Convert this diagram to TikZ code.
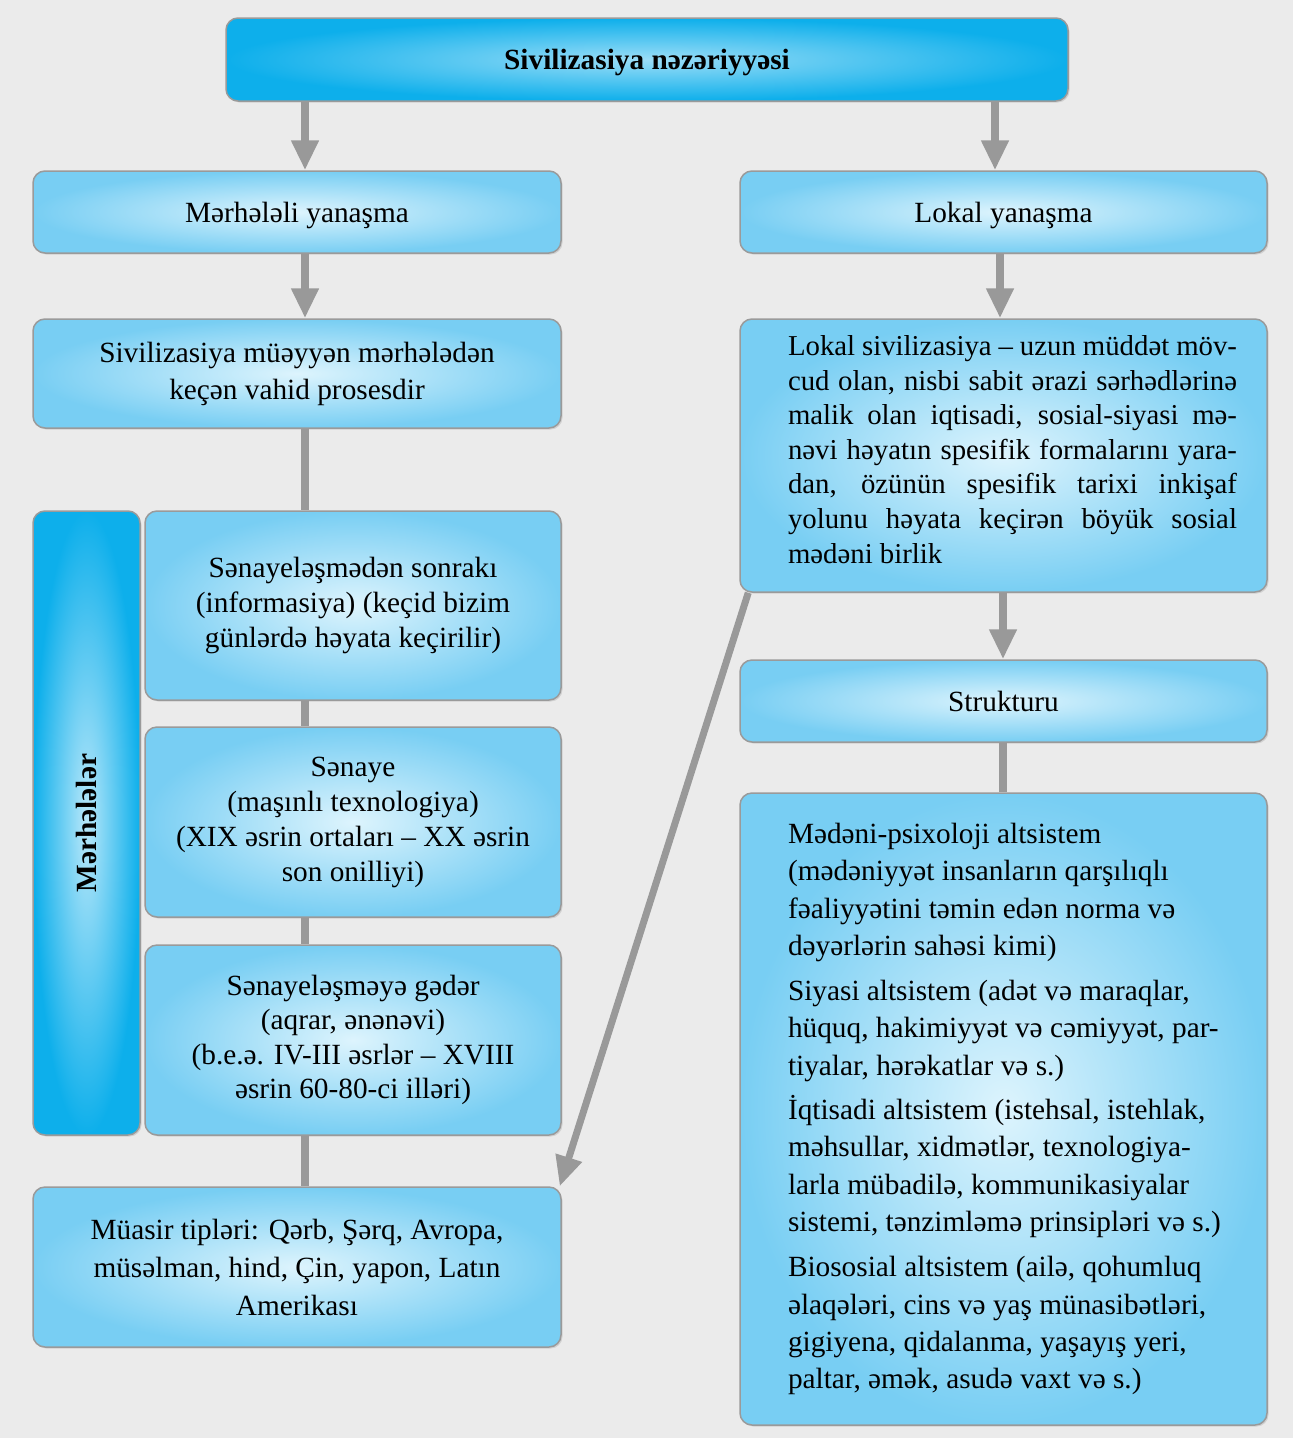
\documentclass[tikz,border=0pt]{standalone}
\usepackage{fontspec}
\setmainfont{Liberation Serif}
\usetikzlibrary{arrows.meta,shadows}
\definecolor{bgc}{HTML}{EBEBEB}
\definecolor{boxout}{HTML}{78CEF3}
\definecolor{boxin}{HTML}{DDF4FD}
\definecolor{topout}{HTML}{0DAFEB}
\definecolor{topin}{HTML}{9ADDF7}
\definecolor{edgec}{HTML}{9A9A9A}
\definecolor{connc}{HTML}{999999}
\tikzset{
  box/.style={draw=edgec, line width=1.5pt, rounded corners=12pt,
    inner color=boxin, outer color=boxout, inner sep=0pt, align=center,
    drop shadow={shadow xshift=1.5pt, shadow yshift=-1.5pt, opacity=0.25},
    font=\fontsize{29.3}{35}\selectfont},
  topbox/.style={box, inner color=topin, outer color=topout},
  sidebox/.style={box, inner color=topin!70!white, outer color=topout},
  arr/.style={draw=connc, line width=8pt, -{Triangle[width=26pt,length=30pt]}},
  link/.style={draw=connc, line width=8pt},
}
\begin{document}
\begin{tikzpicture}[x=1pt,y=-1pt]
\fill[bgc] (0,0) rectangle (1293,1438);
\useasboundingbox (0,0) rectangle (1293,1438);

\node[topbox, minimum width=842pt, minimum height=83pt, text depth=0pt] (top) at (647,59.5) {\bfseries Sivilizasiya nəzəriyyəsi};

\node[box, minimum width=528pt, minimum height=82pt, text depth=0pt] (mer) at (297,212) {Mərhələli yanaşma};
\node[box, minimum width=527pt, minimum height=82pt, text depth=0pt] (lok) at (1003.5,212) {Lokal yanaşma};

\node[box, minimum width=528pt, minimum height=109pt, font=\fontsize{29.3}{37}\selectfont] (siv) at (297,373.5)
  {Sivilizasiya müəyyən mərhələdən\\keçən vahid prosesdir};

\node[box, minimum width=527pt, minimum height=273pt] (lsiv) at (1003.5,455.5)
  {\hspace*{18pt}\parbox{449pt}{\fontsize{28.8}{34.6}\selectfont\raggedright
   \makebox[449pt][s]{Lokal sivilizasiya – uzun müddət möv-}\\
   \makebox[449pt][s]{cud olan, nisbi sabit ərazi sərhədlərinə}\\
   \makebox[449pt][s]{malik olan iqtisadi, sosial-siyasi mə-}\\
   \makebox[449pt][s]{nəvi həyatın spesifik formalarını yara-}\\
   \makebox[449pt][s]{dan, özünün spesifik tarixi inkişaf}\\
   \makebox[449pt][s]{yolunu həyata keçirən böyük sosial}\\
   mədəni birlik\par\vspace{12pt}}};

\node[box, minimum width=527pt, minimum height=82pt] (str) at (1003.5,701) {Strukturu};

\node[box, minimum width=527pt, minimum height=632pt] (sub) at (1003.5,1109)
  {\hspace*{18pt}\parbox{449pt}{\fontsize{29.3}{37.3}\selectfont\raggedright
   Mədəni-psixoloji altsistem\\
   (mədəniyyət insanların qarşılıqlı\\
   fəaliyyətini təmin edən norma və\\
   dəyərlərin sahəsi kimi)\\[8pt]
   Siyasi altsistem (adət və maraqlar,\\
   hüquq, hakimiyyət və cəmiyyət, par-\\
   tiyalar, hərəkatlar və s.)\\[7pt]
   İqtisadi altsistem (istehsal, istehlak,\\
   məhsullar, xidmətlər, texnologiya-\\
   larla mübadilə, kommunikasiyalar\\
   sistemi, tənzimləmə prinsipləri və s.)\\[8pt]
   Biososial altsistem (ailə, qohumluq\\
   əlaqələri, cins və yaş münasibətləri,\\
   gigiyena, qidalanma, yaşayış yeri,\\
   paltar, əmək, asudə vaxt və s.)}};

\node[sidebox, rotate=90, minimum width=624pt, minimum height=107pt] (merh) at (86.5,823) {\bfseries Mərhələlər};

\node[box, minimum width=416pt, minimum height=189pt] (s1) at (353,605.5)
  {Sənayeləşmədən sonrakı\\(informasiya) (keçid bizim\\günlərdə həyata keçirilir)};
\node[box, minimum width=416pt, minimum height=190pt] (s2) at (353,822)
  {Sənaye\\(maşınlı texnologiya)\\(XIX əsrin ortaları – XX əsrin\\son onilliyi)};
\node[box, minimum width=416pt, minimum height=190pt, font=\fontsize{29.3}{34.5}\selectfont] (s3) at (353,1040)
  {Sənayeləşməyə gədər\\(aqrar, ənənəvi)\\(b.e.ə. IV-III əsrlər – XVIII\\əsrin 60-80-ci illəri)};

\node[box, minimum width=528pt, minimum height=160pt, font=\fontsize{29.3}{38}\selectfont] (mod) at (297,1267)
  {Müasir tipləri: Qərb, Şərq, Avropa,\\müsəlman, hind, Çin, yapon, Latın\\Amerikası};

% connectors
\draw[arr] (top.south -| 305,0) -- (mer.north -| 305,0);
\draw[arr] (top.south -| 995,0) -- (lok.north -| 995,0);
\draw[arr] (mer.south -| 305,0) -- (siv.north -| 305,0);
\draw[arr] (lok.south -| 1000,0) -- (lsiv.north -| 1000,0);
\draw[arr] (lsiv.south -| 1003,0) -- (str.north -| 1003,0);
\draw[link] (str.south -| 1003,0) -- (sub.north -| 1003,0);
\draw[link] (siv.south -| 305,0) -- (s1.north -| 305,0);
\draw[link] (s1.south -| 305,0) -- (s2.north -| 305,0);
\draw[link] (s2.south -| 305,0) -- (s3.north -| 305,0);
\draw[link] (s3.south -| 305,0) -- (mod.north -| 305,0);
\draw[arr, line width=7pt] ([xshift=9pt]lsiv.south west) -- ([xshift=-2pt]mod.north east);
\end{tikzpicture}
\end{document}
